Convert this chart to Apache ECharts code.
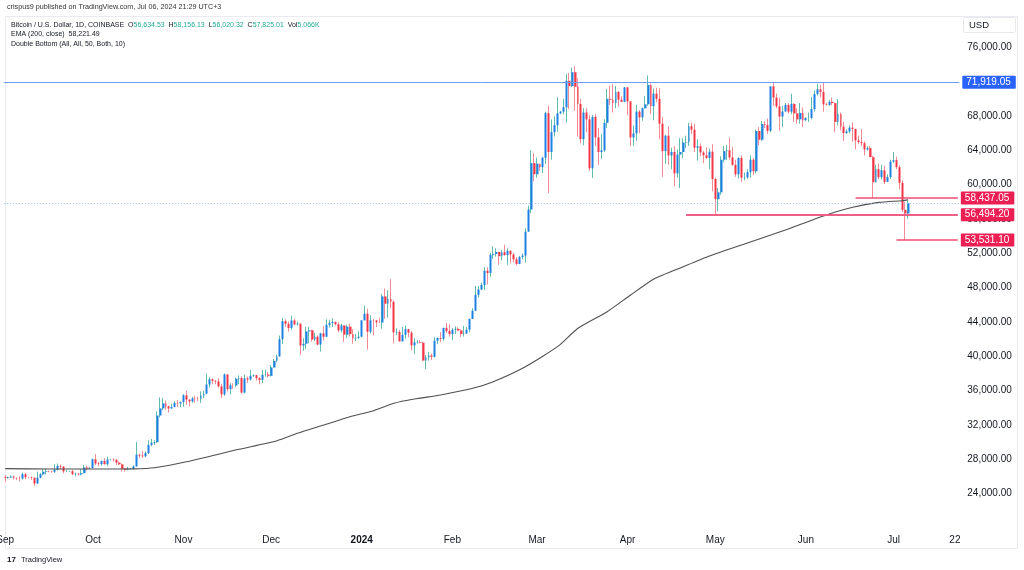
<!DOCTYPE html>
<html><head><meta charset="utf-8">
<script src="https://cdn.jsdelivr.net/npm/echarts@6/dist/echarts.min.js"></script>
<style>html,body{margin:0;padding:0;background:#fff}#c{width:1024px;height:570px}</style>
</head><body><div id="c"></div>
<script>
// Daily candles, rows are [open, close, low, high]
const sep23 = [
[25934,25800,25334,26130],[25800,25870,25710,25980],[25870,25970,25810,26120],[25970,25820,25640,26090],
[25820,25780,25570,25880],[25780,25750,25390,26000],[25750,26240,25610,26440],[26240,25900,25650,26410],
[25900,25890,25800,25940],[25890,25830,25600,25990],[25830,25160,24900,25880],[25160,25840,25130,26540],
[25840,26230,25760,26390],[26230,26530,26130,26820],[26530,26600,26230,26880],[26600,26570,26480,26670],
[26570,26530,26410,26620],[26530,26760,26380,27420],[26760,27210,26670,27490],[27210,27130,26850,27380],
[27130,26570,26360,27160],[26570,26580,26490,26720],[26580,26600,26510,26640],[26600,26250,26140,26740],
[26250,26300,25990,26430],[26300,26220,26090,26390],[26220,26370,26110,26830],[26370,27030,26340,27310],
[27030,26910,26670,27230],[26910,26970,26890,27090]];
const oct23 = [
[26970,27990,26950,28070],[27990,27500,27330,28590],[27500,27430,27160,27670],[27430,27790,27220,27840],
[27790,27410,27370,28120],[27410,27950,27180,28290],[27950,27970,27850,28040],[27970,27940,27720,28110],
[27940,27600,27290,27990],[27600,27390,27330,27740],[27390,26880,26560,27480],[26880,26750,26560,26940],
[26750,26860,26700,27100],[26860,26880,26820,26970],[26880,27160,26800,27290],[27160,28520,27120,30000],
[28520,28420,28110,28620],[28420,28330,28150,28960],[28330,28720,28210,28900],[28720,29670,28610,30200],
[29670,29910,29480,30350],[29910,29990,29680,30200],[29990,33090,29890,33580],[33090,33920,32860,35200],
[33920,34500,33690,35140],[34500,34160,33750,34830],[34160,33910,33420,34240],[33910,34090,33870,34460],
[34090,34540,34040,34750],[34540,34500,34100,34860],[34500,34660,34080,34720]];
const nov23 = [
[34660,35440,34100,35580],[35440,34940,34340,35980],[34940,34730,34120,34950],[34730,35080,34580,35260],
[35080,35050,34580,35380],[35050,35040,34760,35290],[35040,35420,34550,35900],[35420,35630,35130,35990],
[35630,36700,35570,37970],[36700,37310,36360,37520],[37310,37130,36770,37420],[37130,37060,36740,37230],
[37060,36480,36350,37430],[36480,35550,35110,36770],[35550,37870,35370,37990],[37870,36160,35900,37930],
[36160,36600,35540,36850],[36600,36590,36190,36830],[36590,37380,36410,37520],[37380,37460,36740,37760],
[37460,35760,35650,37650],[35760,37420,35660,37860],[37420,37290,36880,37630],[37290,37720,37160,38420],
[37720,37790,37600,37890],[37790,37450,37150,37830],[37450,37240,36720,37570],[37240,37830,36860,38400],
[37830,37860,37600,38440],[37860,37710,37500,38170]];
const dec23 = [
[37710,38690,37620,38970],[38690,39460,38650,39680],[39460,39970,39280,40200],[39970,41980,39970,42410],
[41980,44080,41420,44490],[44080,43770,43400,44300],[43770,43290,42850,44050],[43290,44170,43090,44710],
[44170,43710,43610,44370],[43710,43790,43570,44040],[43790,41240,40180,43800],[41240,41450,40620,42100],
[41450,42890,40850,43430],[42890,43020,41520,43420],[43020,41940,41690,43090],[41940,42270,41750,42710],
[42270,41360,41260,42440],[41360,42660,40540,42740],[42660,42270,41830,43510],[42270,43650,42210,44290],
[43650,43860,43330,44240],[43860,43990,43400,44410],[43990,43730,43600,44040],[43730,43010,42770,43950],
[43010,43580,42750,43800],[43580,42510,41660,43610],[42510,43450,42100,43680],[43450,42580,42300,43800],
[42580,42070,41450,43140],[42070,42140,41760,42600],[42140,42280,41990,42900]];
const jan24 = [
[42280,44180,42200,44200],[44180,44950,44170,45900],[44950,42850,40750,45500],[42850,44180,42630,44770],
[44180,44160,42430,44350],[44160,43960,43410,44240],[43960,43930,43880,44490],[43930,46970,43200,47250],
[46970,46120,44360,47900],[46120,46660,44500,47700],[46660,46340,45600,48970],[46340,42780,41500,46500],
[42780,42840,42440,43250],[42840,41730,41720,43070],[41730,42500,41720,43400],[42500,43150,42050,43580],
[43150,42740,42210,43190],[42740,41260,40660,42930],[41260,41620,40270,42140],[41620,41660,41460,41880],
[41660,41580,41500,41880],[41580,39500,39440,41680],[39500,39850,38500,40140],[39850,40080,39480,40520],
[40080,39930,39550,40290],[39930,41800,39830,42220],[41800,42120,41400,42200],[42120,42030,41620,42800],
[42030,43300,41800,43310],[43300,42940,42700,43860],[42940,42580,42280,43740]];
const feb24 = [
[42580,43080,41880,43290],[43080,43190,42590,43480],[43190,43000,42910,43380],[43000,42580,42250,43110],
[42580,42650,42290,43540],[42650,43090,42580,43400],[43090,44340,42790,44380],[44340,45300,44330,45600],
[45300,47150,45250,48200],[47150,47770,46830,48170],[47770,48290,47720,48590],[48290,49960,47700,50380],
[49960,49700,48360,50370],[49700,51820,49270,52080],[51820,51920,51340,52820],[51920,52150,51600,52580],
[52150,51660,50650,52180],[51660,52120,51160,52370],[52120,51790,51700,52990],[51790,52280,50650,52580],
[52280,51850,50830,52380],[51850,51300,50940,52040],[51300,50750,50550,51550],[50750,51570,50730,51690],
[51570,51730,51290,51970],[51730,54520,50910,54900],[54520,57090,54490,57550],[57090,62500,56700,64000],
[62500,61200,60400,63680]];
const mar24 = [
[61200,62440,60810,63140],[62440,62030,61640,62440],[62030,63130,61330,63230],[63130,68330,62400,68500],
[68330,63800,59000,69200],[63800,66110,62900,67600],[66110,66920,65600,67950],[66920,68300,66160,70180],
[68300,68500,68200,68600],[68500,69020,68200,70000],[69020,72100,67220,72900],[72100,71480,68800,73000],
[71480,73100,71360,73650],[73100,71400,68600,73800],[71400,69400,65600,72400],[69400,65300,64800,70000],
[65300,68400,64600,68900],[68400,67600,66100,68900],[67600,61900,61600,68100],[61900,67900,60800,68100],
[67900,65500,64500,68200],[65500,63800,62300,66600],[63800,64000,63000,65900],[64000,67200,63800,67600],
[67200,70000,66600,71150],[70000,69900,69300,71550],[69900,69500,68400,71700],[69500,70800,68900,71500],
[70800,69900,69100,70900],[69900,69650,69600,70300],[69650,71330,69600,71380]];
const apr24 = [
[71330,69700,68100,71370],[69700,65500,64500,69700],[65500,65970,64500,66900],[65970,68500,65100,69300],
[68500,67840,66000,68700],[67840,68900,67450,69000],[68900,69360,68850,70300],[69360,71620,69200,72720],
[71620,69140,68200,71750],[69140,70600,67500,71200],[70600,70000,69600,71300],[70000,67100,65300,71250],
[67100,63900,60900,67900],[63900,65700,62400,65800],[65700,63400,62300,66800],[63400,63800,61800,64300],
[63800,61300,59800,64500],[61300,63500,60800,64100],[63500,63800,59600,65400],[63800,64900,63100,65400],
[64900,64940,64250,65700],[64940,66800,64500,67200],[66800,66400,65900,67200],[66400,64300,63800,67100],
[64300,64480,62800,65300],[64480,63750,63300,64800],[63750,63420,62500,63900],[63420,63100,63000,64350],
[63100,63840,61800,64200],[63840,60650,59200,64700]];
const may24 = [
[60650,58300,56494.2,60800],[58300,59100,56900,59600],[59100,62900,58800,63300],[62900,63900,62600,64500],
[63900,64000,62900,64600],[64000,63170,62900,65500],[63170,62300,62200,64400],[62300,61200,60900,62900],
[61200,63100,60700,63200],[63100,60800,60300,63400],[60800,60830,60500,61400],[60830,61450,60700,61800],
[61450,62900,60800,63400],[62900,61550,61100,63100],[61550,66250,61300,66400],[66250,65230,64600,66700],
[65230,67050,65100,67400],[67050,66940,66600,67400],[66940,66270,65900,67700],[66270,71450,66100,71500],
[71450,70140,69200,71919.05],[70140,69120,68900,70600],[69120,67930,66300,70100],[67930,68520,66700,69200],
[68520,69290,68500,69500],[69290,68500,68300,69500],[68500,69400,68200,70600],[69400,68300,67300,69500],
[68300,67600,67100,68900],[67600,68350,67100,69500],[68350,67500,66700,69000]];
const jun24 = [
[67500,67760,67400,67850],[67760,67770,67300,68400],[67770,68800,67600,70200],[68800,70550,68500,71000],
[70550,71100,70400,71750],[71100,70800,70150,71600],[70800,69350,68500,71850],[69350,69300,69200,69550],
[69300,69650,69150,69850],[69650,69500,69250,70150],[69500,67300,66100,69550],[67300,68240,66900,69980],
[68240,66750,66300,68400],[66750,66000,65100,67300],[66000,66200,65900,66450],[66200,66640,66000,66900],
[66640,66490,65000,67250],[66490,65150,64100,66500],[65150,64960,64700,65700],[64960,64830,64500,66500],
[64830,64100,63400,65050],[64100,64250,63950,64500],[64250,63200,63200,64500],[63200,60280,58437.05,63350],
[60280,61800,60250,62300],[61800,60860,60650,62450],[60860,61670,60600,62300],[61670,60320,60070,62200],
[60320,60880,60300,61200],[60880,62680,60650,62900]];
const jul24 = [
[62680,62850,62500,63800],[62850,62030,61800,63250],[62030,60200,59450,62250],[60200,57060,56800,60500],
[57060,56634.53,53531.1,58000],[56634.53,57825.01,56020.32,58156.13]];

// EMA (200, close)
const emaDates = ['2023-09-01','2023-09-16','2023-10-03','2023-10-15','2023-10-22','2023-11-02','2023-11-20',
 '2023-12-03','2023-12-10','2023-12-19','2023-12-28','2024-01-05','2024-01-12','2024-01-19','2024-01-28',
 '2024-02-08','2024-02-15','2024-02-26','2024-03-08','2024-03-15','2024-03-25','2024-04-02','2024-04-10',
 '2024-04-20','2024-04-29','2024-05-11','2024-05-25','2024-06-07','2024-06-17','2024-06-26','2024-07-04','2024-07-06'];
const emaValues = [26900,26850,26850,26870,27000,27700,29150,30150,31010,31980,32950,33650,34510,35010,35480,
 36260,37030,38780,41110,43250,45190,47130,49000,50430,51680,53080,54710,56340,57350,57930,58120,58221.49];

// Horizontal levels
const topLevel = 71919.05;
const bottomLevels = [58437.05, 56494.20, 53531.10];
const bottomStarts = ['2024-06-18', '2024-04-21', '2024-07-02'];

const tickLabels = [['2023-09-01','Sep'],['2023-10-01','Oct'],['2023-11-01','Nov'],['2023-12-01','Dec'],
 ['2024-01-01','2024'],['2024-02-01','Feb'],['2024-03-01','Mar'],['2024-04-01','Apr'],['2024-05-01','May'],
 ['2024-06-01','Jun'],['2024-07-01','Jul'],['2024-07-22','22']];

const firstDay = Date.UTC(2023, 8, 1), lastDay = Date.UTC(2024, 6, 23);
const categories = [];
for (let t = firstDay; t <= lastDay; t += 86400000) categories.push(new Date(t).toISOString().slice(0, 10));
const lastCat = categories[categories.length - 1];

const ohlc = [].concat(sep23, oct23, nov23, dec23, jan24, feb24, mar24, apr24, may24, jun24, jul24);
const bodies = ohlc.map(r => [r[0], r[1], Math.min(r[0], r[1]), Math.max(r[0], r[1])]);
const last = ohlc[ohlc.length - 1];

const fmt = v => { const s = (+v).toFixed(2).split('.'); return s[0].replace(/\B(?=(\d{3})+(?!\d))/g, ',') + '.' + s[1]; };
const tickMap = {}; tickLabels.forEach(t => tickMap[t[0]] = t[1]);

const FONT = "'Liberation Sans', Arial, sans-serif";
const redBox = '#ec1f55';
const lbl = (bg) => ({ show: true, position: 'end', distance: 3, color: '#fff', backgroundColor: bg,
  padding: [2, 5, 1, 4], fontSize: 10, fontFamily: FONT, borderRadius: 1 });

const chart = echarts.init(document.getElementById('c'), null, { renderer: 'canvas' });
chart.setOption({
  animation: false,
  backgroundColor: '#fff',
  textStyle: { fontFamily: FONT },
  grid: { left: 3.8, right: 64.7, top: 13, bottom: 42.2, containLabel: false, outerBoundsMode: 'none' },
  xAxis: {
    type: 'category', data: categories, boundaryGap: true,
    axisLine: { show: false }, axisTick: { show: false }, splitLine: { show: false },
    axisLabel: {
      interval: (i, v) => tickMap[v] !== undefined,
      formatter: v => v === '2024-01-01' ? '{b|2024}' : (tickMap[v] || ''),
      color: '#131722', fontSize: 10, margin: 7, fontFamily: FONT,
      rich: { b: { fontWeight: 'bold', fontSize: 10, color: '#131722', fontFamily: FONT } }
    }
  },
  yAxis: {
    type: 'value', position: 'right', min: 20000, max: 80000, interval: 4000, scale: false,
    axisLine: { show: false }, axisTick: { show: false }, splitLine: { show: false },
    axisLabel: { showMinLabel: false, showMaxLabel: false, formatter: v => fmt(v), color: '#131722',
      fontSize: 10, margin: 8, fontFamily: FONT }
  },
  series: [
    {
      name: 'wicks', type: 'candlestick', data: ohlc, barWidth: 1, silent: true,
      itemStyle: { color: '#5dbdaf', color0: '#f48a96', borderColor: '#5dbdaf', borderColor0: '#f48a96', borderWidth: 1 }
    },
    {
      name: 'bodies', type: 'candlestick', data: bodies, barWidth: 2.4, silent: true,
      itemStyle: { color: '#1f80e4', color0: '#f23645', borderColor: '#1f80e4', borderColor0: '#f23645', borderWidth: 0 },
      markLine: {
        silent: true, symbol: ['none', 'none'], animation: false, precision: 2,
        data: [
          { yAxis: topLevel, lineStyle: { color: '#6f9cf2', width: 1, type: 'solid' }, label: Object.assign(lbl('#2962ff'), { formatter: fmt(topLevel) }) },
          { yAxis: last[1], lineStyle: { color: '#9bb9f2', width: 1, type: [1, 2] }, label: { show: false } },
          [{ coord: [bottomStarts[0], bottomLevels[0]], lineStyle: { color: '#ef4d74', width: 1.5, type: 'solid' }, label: Object.assign(lbl(redBox), { formatter: fmt(bottomLevels[0]) }) },
           { coord: [lastCat, bottomLevels[0]] }],
          [{ coord: [bottomStarts[1], bottomLevels[1]], lineStyle: { color: '#ee5f86', width: 2.2, type: 'solid' }, label: Object.assign(lbl(redBox), { formatter: fmt(bottomLevels[1]) }) },
           { coord: [lastCat, bottomLevels[1]] }],
          [{ coord: [bottomStarts[2], bottomLevels[2]], lineStyle: { color: '#ef4d74', width: 1.5, type: 'solid' }, label: Object.assign(lbl(redBox), { formatter: fmt(bottomLevels[2]) }) },
           { coord: [lastCat, bottomLevels[2]] }]
        ]
      }
    },
    {
      name: 'EMA', type: 'line', data: emaDates.map((d, i) => [d, emaValues[i]]), symbol: 'none', smooth: 0.2,
      silent: true, lineStyle: { color: '#4f4f4f', width: 1.1 }, z: 3
    }
  ],
  graphic: [
    { type: 'rect', shape: { x: 5.5, y: 16.5, width: 1012, height: 532 }, style: { fill: 'none', stroke: '#e9ebf0', lineWidth: 1 }, silent: true, z: -1 },
    { type: 'text', x: 7, y: 7, style: { text: 'crispus9 published on TradingView.com, Jul 06, 2024 21:29 UTC+3', fontSize: 7.2, fontFamily: FONT, fill: '#333', verticalAlign: 'middle' } },
    { type: 'text', x: 11, y: 25, style: {
        text: 'Bitcoin / U.S. Dollar, 1D, COINBASE  O{v|' + fmt(last[0]) + '}  H{v|' + fmt(last[3]) + '}  L{v|' + fmt(last[2]) + '}  C{v|' + fmt(last[1]) + '}  Vol{v|5.066K}',
        fontSize: 7, fontFamily: FONT, fill: '#131722', verticalAlign: 'middle',
        rich: { v: { fill: '#22ab94', fontSize: 7, fontFamily: FONT } } } },
    { type: 'text', x: 11, y: 34.5, style: { text: 'EMA (200, close)  ' + fmt(emaValues[emaValues.length - 1]), fontSize: 7, fontFamily: FONT, fill: '#131722', verticalAlign: 'middle' } },
    { type: 'text', x: 11, y: 44, style: { text: 'Double Bottom (All, All, 50, Both, 10)', fontSize: 7, fontFamily: FONT, fill: '#131722', verticalAlign: 'middle' } },
    { type: 'rect', shape: { x: 963.5, y: 17.5, width: 52, height: 15, r: 2 }, style: { fill: '#fff', stroke: '#e6e8ee', lineWidth: 1 } },
    { type: 'text', x: 969, y: 25.5, style: { text: 'USD', fontSize: 9.5, fontFamily: FONT, fill: '#131722', verticalAlign: 'middle' } },
    { type: 'text', x: 7, y: 560, style: { text: '17', fontSize: 8, fontWeight: 'bold', fontFamily: FONT, fill: '#131722', verticalAlign: 'middle' } },
    { type: 'text', x: 21, y: 560, style: { text: 'TradingView', fontSize: 7.5, fontFamily: FONT, fill: '#131722', verticalAlign: 'middle' } }
  ]
});
</script></body></html>
